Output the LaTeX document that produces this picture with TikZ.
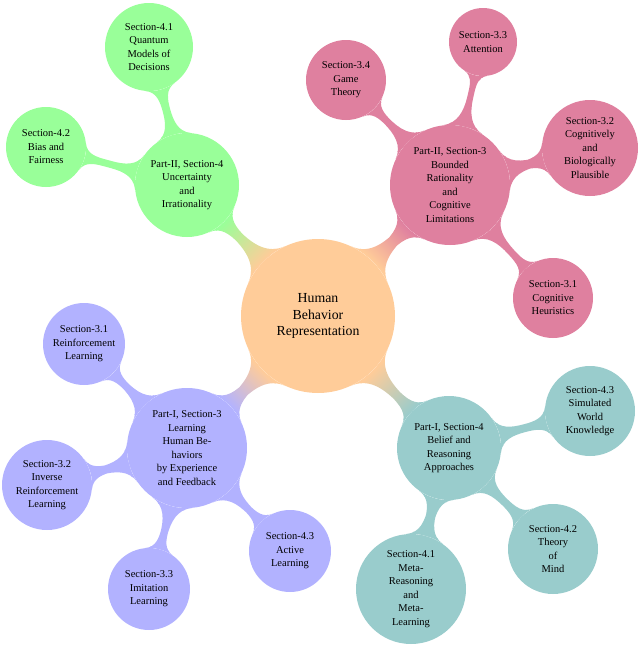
\documentclass[tikz,border=0pt]{standalone}
\usepackage{fontspec}
\setmainfont{Liberation Serif}
\usetikzlibrary{mindmap,backgrounds}
\colorlet{corange}{orange!40}
\colorlet{cgreen}{green!40}
\colorlet{cpink}{purple!50}
\colorlet{cblue}{blue!30}
\colorlet{cteal}{teal!40}
\tikzset{
  bubble/.style={circle, inner sep=0pt, align=center, text=black,
    font=\fontsize{10.5}{13.5}\selectfont},
  rootbubble/.style={bubble, font=\fontsize{13.8}{16.5}\selectfont},
  mainbar/.style={line width=15pt},
  subbar/.style={line width=12pt}
}
\begin{document}
\begin{tikzpicture}[x=1pt,y=-1pt]
\useasboundingbox (0,0) rectangle (640,645);
% root
\node[rootbubble, fill=corange, minimum size=154pt] (C) at (318,316) {Human\\Behavior\\Representation};
% green branch
\node[bubble, fill=cgreen, minimum size=104pt] (G) at (187,185) {Part-II, Section-4\\Uncertainty\\and\\Irrationality};
\node[bubble, fill=cgreen, minimum size=88pt] (G1) at (149,47) {Section-4.1\\Quantum\\Models of\\Decisions};
\node[bubble, fill=cgreen, minimum size=80pt] (G2) at (46,147) {Section-4.2\\Bias and\\Fairness};
% pink branch
\node[bubble, fill=cpink, minimum size=120pt] (P) at (450,185) {Part-II, Section-3\\Bounded\\Rationality\\and\\Cognitive\\Limitations};
\node[bubble, fill=cpink, minimum size=68pt] (P33) at (483,42) {Section-3.3\\Attention};
\node[bubble, fill=cpink, minimum size=80pt] (P34) at (346,80) {Section-3.4\\Game\\Theory};
\node[bubble, fill=cpink, minimum size=96pt] (P32) at (590,148) {Section-3.2\\Cognitively\\and\\Biologically\\Plausible};
\node[bubble, fill=cpink, minimum size=80pt] (P31) at (553,298) {Section-3.1\\Cognitive\\Heuristics};
% blue branch
\node[bubble, fill=cblue, minimum size=120pt] (B) at (187,448) {Part-I, Section-3\\Learning\\Human Be-\\haviors\\by Experience\\and Feedback};
\node[bubble, fill=cblue, minimum size=82pt] (B31) at (84,344) {Section-3.1\\Reinforcement\\Learning};
\node[bubble, fill=cblue, minimum size=90pt] (B32) at (47,485) {Section-3.2\\Inverse\\Reinforcement\\Learning};
\node[bubble, fill=cblue, minimum size=82pt] (B33) at (149,589) {Section-3.3\\Imitation\\Learning};
\node[bubble, fill=cblue, minimum size=82pt] (B43) at (290,551) {Section-4.3\\Active\\Learning};
% teal branch
\node[bubble, fill=cteal, minimum size=104pt] (T) at (449,448) {Part-I, Section-4\\Belief and\\Reasoning\\Approaches};
\node[bubble, fill=cteal, minimum size=90pt] (T43) at (590,411) {Section-4.3\\Simulated\\World\\Knowledge};
\node[bubble, fill=cteal, minimum size=90pt] (T42) at (553,549) {Section-4.2\\Theory\\of\\Mind};
\node[bubble, fill=cteal, minimum size=110pt] (T41) at (411,589) {Section-4.1\\Meta-\\Reasoning\\and\\Meta-\\Learning};
% connections
\begin{scope}[on background layer]
\path[mainbar] (C) to[circle connection bar switch color=from (corange) to (cgreen)] (G);
\path[mainbar] (C) to[circle connection bar switch color=from (corange) to (cpink)] (P);
\path[mainbar] (C) to[circle connection bar switch color=from (corange) to (cblue)] (B);
\path[mainbar] (C) to[circle connection bar switch color=from (corange) to (cteal)] (T);
\path[subbar] (G) to[circle connection bar switch color=from (cgreen) to (cgreen)] (G1);
\path[subbar] (G) to[circle connection bar switch color=from (cgreen) to (cgreen)] (G2);
\path[subbar] (P) to[circle connection bar switch color=from (cpink) to (cpink)] (P33);
\path[subbar] (P) to[circle connection bar switch color=from (cpink) to (cpink)] (P34);
\path[subbar] (P) to[circle connection bar switch color=from (cpink) to (cpink)] (P32);
\path[subbar] (P) to[circle connection bar switch color=from (cpink) to (cpink)] (P31);
\path[subbar] (B) to[circle connection bar switch color=from (cblue) to (cblue)] (B31);
\path[subbar] (B) to[circle connection bar switch color=from (cblue) to (cblue)] (B32);
\path[subbar] (B) to[circle connection bar switch color=from (cblue) to (cblue)] (B33);
\path[subbar] (B) to[circle connection bar switch color=from (cblue) to (cblue)] (B43);
\path[subbar] (T) to[circle connection bar switch color=from (cteal) to (cteal)] (T43);
\path[subbar] (T) to[circle connection bar switch color=from (cteal) to (cteal)] (T42);
\path[subbar] (T) to[circle connection bar switch color=from (cteal) to (cteal)] (T41);
\end{scope}
\end{tikzpicture}
\end{document}
